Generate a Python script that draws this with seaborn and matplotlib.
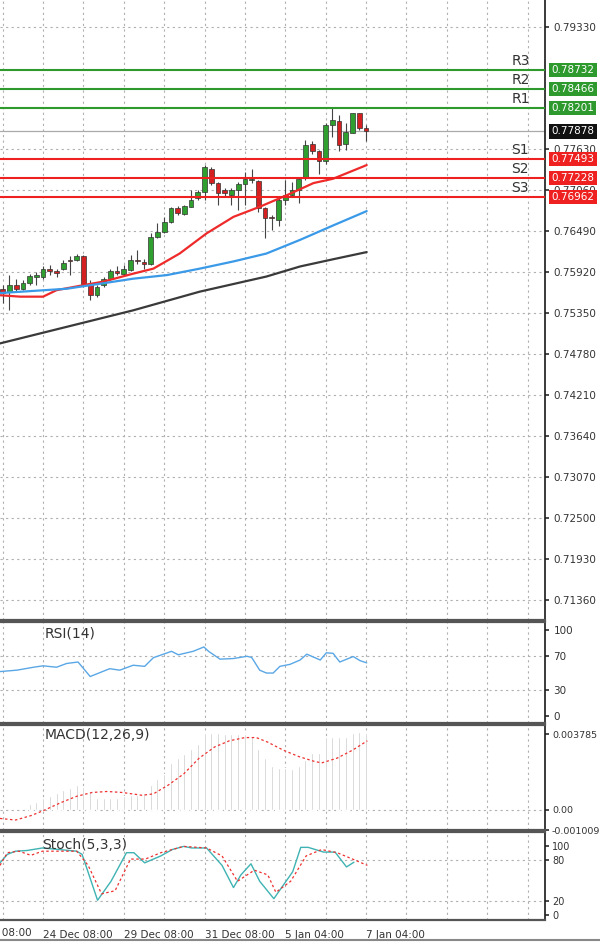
import numpy as np
import pandas as pd
import matplotlib
matplotlib.use("Agg")
import matplotlib.pyplot as plt
import seaborn as sns

sns.set_theme(style="white")
plt.rcParams["font.family"] = "DejaVu Sans"

# ---------------- data ----------------
opens = [.7569,.7565,.7574,.7569,.7577,.7586,.7586,.7596,.7593,.7597,.7609,.7609,.7614,.7574,.7560,.7574,.7583,.7594,.7590,.7595,
         .7609,.7606,.7604,.7641,.7648,.7662,.7682,.7673,.7683,.7695,.7704,.7736,.7716,.7706,.7699,.7706,.7715,.7720,.7719,.7681,
         .7669,.7665,.7692,.7699,.7706,.7725,.7771,.7761,.7746,.7797,.7803,.7771,.7786,.7814,.7793]
closes = [.7563,.7574,.7569,.7577,.7587,.7588,.7596,.7594,.7591,.7605,.7607,.7614,.7575,.7560,.7572,.7583,.7594,.7591,.7597,.7609,
          .7607,.7604,.7641,.7648,.7662,.7682,.7674,.7684,.7693,.7704,.7739,.7716,.7702,.7702,.7706,.7715,.7721,.7721,.7681,.7667,
          .7668,.7692,.7699,.7707,.7722,.7769,.7760,.7746,.7797,.7804,.7769,.7787,.7813,.7792,.77878]
highs = [.7574,.7588,.7583,.7581,.7590,.7592,.7600,.7602,.7597,.7609,.7614,.7618,.7616,.7581,.7574,.7586,.7597,.7600,.7602,.7616,
         .7623,.7611,.7646,.7660,.7669,.7683,.7684,.7685,.7706,.7706,.7741,.7739,.7718,.7709,.7709,.7718,.7732,.7736,.7720,.7683,
         .7671,.7697,.7720,.7718,.7722,.7776,.7774,.7762,.7799,.7820,.7811,.7799,.7814,.7814,.7797]
lows = [.7549,.7539,.7565,.7567,.7574,.7574,.7583,.7588,.7586,.7595,.7588,.7607,.7572,.7553,.7558,.7572,.7581,.7588,.7588,.7594,
        .7604,.7597,.7602,.7639,.7646,.7660,.7671,.7671,.7683,.7692,.7692,.7713,.7685,.7697,.7685,.7678,.7685,.7716,.7676,.7639,
        .7651,.7656,.7685,.7697,.7688,.7720,.7757,.7729,.7743,.7780,.7760,.7762,.7785,.7790,.7774]

ma_red_x = [-0.4, 2.6, 6.0, 8.0, 12, 15, 19.4, 22.4, 26.3, 30.3, 34.3, 38.2, 42.2, 46.2, 49.1, 54.1]
ma_red_y = [.7560,.7558,.7558,.7567,.7574,.7579,.7590,.7597,.7618,.7646,.7669,.7683,.7699,.7716,.7722,.7741]
ma_blue_x = [-0.4, 9.5, 14.5, 19.4, 24.4, 29.3, 34.3, 39.2, 44.2, 49.1, 54.1]
ma_blue_y = [.7563,.7569,.7576,.7583,.7588,.7597,.7607,.7618,.7637,.7657,.7677]
ma_black_x = [-0.4, 9.5, 19.4, 29.3, 39.2, 44.2, 49.1, 54.1]
ma_black_y = [.7493,.7516,.7539,.7565,.7586,.7600,.7610,.7620]

level_names = ["R3", "R2", "R1", "S1", "S2", "S3"]
level_values = [0.78732, 0.78466, 0.78201, 0.77493, 0.77228, 0.76962]
current_price = 0.77878
price_ticks = [0.79330,0.77630,0.77060,0.76490,0.75920,0.75350,0.74780,0.74210,0.73640,0.73070,0.72500,0.71930,0.71360]

rsi_x = [-0.4,2.1,4.6,6.0,8.0,9.5,11.2,13,15.9,17.4,19.4,21.1,22.4,25.1,26.1,28.3,29.9,30.6,32.3,34.3,36.3,37,38.2,39.2,40.2,41.2,42.7,44.2,45.2,47.2,48.1,49.1,50.1,52.1,53.1,54.1]
rsi_y = [51.7,53.3,56.7,58.3,56.7,61,62.7,46,55,53.3,59,57.7,67.7,75,71,75,80,75,66,66.7,69.3,68,53.3,50,50,57.7,60,65,71.7,65,73.3,72.7,62.7,69,64.3,61.7]

macd_hist = [0.00029,0.0004,0.0006,0.00068,0.00084,0.001,0.00108,0.00124,0.00116,0.00092,
             0.0006,0.0006,0.0006,0.0006,0.00068,0.00076,0.00076,0.00084,0.00124,0.00156,
             0.0018,0.00235,0.00259,0.0028,0.00307,0.00331,0.00386,0.00383,0.00383,0.00378,
             0.00378,0.00378,0.00378,0.0037,0.00307,0.00259,0.00219,0.00211,0.00211,0.00204,
             0.00219,0.00251,0.00283,0.00283,0.00363,0.00363,0.00363,0.00363,0.00386,0.0039,0.00386]
macd_start = 4
sig_x = [-0.4,1.9,4.2,6.1,8.7,11,13.3,15.5,17.8,20.7,22.4,24.6,26.9,29.2,31.5,33.7,36,37.7,39.4,41.7,44,46.3,47.4,49.7,52,54.2]
sig_y = [-0.00043,-0.00051,-0.00029,-0.00003,0.00037,0.00068,0.00087,0.00092,0.00087,0.00073,0.0008,0.00124,0.0018,0.00259,0.00315,0.00346,0.00362,0.00362,0.00339,0.00299,0.00267,0.00243,0.00235,0.00259,0.00299,0.00346]

st_main_x = [-0.4,0.7,1.9,3.6,5.9,11,11.8,14.1,16.1,18.4,19.5,21.1,23.5,25.2,26.9,28.1,30.3,32.6,34.3,35.4,36.9,38.2,40.3,43.1,44.3,45.4,47.7,49.4,51.1,52.2]
st_main_y = [76,88.4,93,94,97.7,93,88.4,21.4,49.1,90.8,90.8,76,86.1,95.4,100,97.7,97.7,72.3,39.9,58.4,74.6,49.1,23.7,63,98.6,98.6,91.7,91.7,70,76.9]
st_sig_x = [-0.4,0.7,2.4,4.2,5.9,11,12.7,14.7,16.7,19,21.2,23.5,26.9,30.3,32.6,34.9,37.4,39.4,40.6,42.8,45.1,47.4,49.7,52,54.2]
st_sig_y = [72.3,90.8,93,87,93,93,72.3,30.7,35.3,81.5,81.5,90.8,100,97.7,86.1,49.1,65.3,58.4,33,49.1,86.1,95.4,90.8,81.5,72.3]

tick_pos = [6, 18, 30, 42, 54]
tick_labels = ["24 Dec 08:00", "29 Dec 08:00", "31 Dec 08:00", "5 Jan 04:00", "7 Jan 04:00"]
first_label = "22 Dec 08:00"

# ---------------- layout ----------------
W, H = 600, 943
fig = plt.figure(figsize=(6, 9.43), dpi=100)
def axes_px(top, bottom):
    return fig.add_axes([0, 1 - bottom / H, 545 / W, (bottom - top) / H])

ax = axes_px(0, 620)
ax_rsi = axes_px(622, 723)
ax_macd = axes_px(725, 830)
ax_st = axes_px(832, 920)
XL = (-0.4, 80.6)
grid_kw = dict(color="#b0b0b0", linestyle=(0, (2, 3)), linewidth=0.8)

for a in [ax, ax_rsi, ax_macd, ax_st]:
    a.set_facecolor("white")
    a.yaxis.tick_right()
    a.tick_params(axis="y", labelsize=7.5, colors="#333333", length=3, pad=3)
    a.set_xticks([])
    for gx in range(0, 81, 6):
        a.axvline(gx, zorder=0, **grid_kw)
    a.spines["left"].set_visible(False)
    a.spines["right"].set_color("#222222")
    a.spines["top"].set_color("#555555"); a.spines["top"].set_linewidth(1.6)
    a.spines["bottom"].set_color("#555555"); a.spines["bottom"].set_linewidth(1.6)

# ---------- main price panel ----------
ax.set_ylim(0.71083, 0.79706)
ax.set_yticks(price_ticks)
ax.set_yticklabels([f"{v:.5f}" for v in price_ticks])
for v in price_ticks:
    ax.axhline(v, zorder=0, **grid_kw)
ax.spines["top"].set_visible(False)
idx = np.arange(len(opens))
o, c, h, l = map(np.array, (opens, closes, highs, lows))
up = c >= o
ax.vlines(idx, l, h, color="#444444", linewidth=0.8, zorder=3)
ax.bar(idx[up], (c - o)[up], bottom=o[up], width=0.7, color="#2fa02f", edgecolor="#333333", linewidth=0.5, zorder=4)
ax.bar(idx[~up], (o - c)[~up], bottom=c[~up], width=0.7, color="#d42020", edgecolor="#333333", linewidth=0.5, zorder=4)

sns.lineplot(x=ma_red_x, y=ma_red_y, ax=ax, color="#ee2a2a", linewidth=1.6, zorder=5)
sns.lineplot(x=ma_blue_x, y=ma_blue_y, ax=ax, color="#3a9ae8", linewidth=1.6, zorder=5)
sns.lineplot(x=ma_black_x, y=ma_black_y, ax=ax, color="#3a3a3a", linewidth=1.6, zorder=5)

ax.axhline(current_price, color="#aaaaaa", linewidth=0.9, zorder=2)
ax.text(1.012, current_price, f"{current_price:.5f}", transform=ax.get_yaxis_transform(), va="center", ha="left",
        fontsize=7.5, color="white", bbox=dict(boxstyle="square,pad=0.2", fc="#111111", ec="none"), zorder=10)
for name, v in zip(level_names, level_values):
    col = "#2e9a2e" if name.startswith("R") else "#ee2020"
    ax.axhline(v, color=col, linewidth=1.5, zorder=6)
    ax.text(1.012, v, f"{v:.5f}", transform=ax.get_yaxis_transform(), va="center", ha="left", fontsize=7.5,
            color="white", bbox=dict(boxstyle="square,pad=0.2", fc=col, ec="none"), zorder=10)
    ax.text(75.6, v + 0.0003, name, fontsize=10, color="#333333", ha="left", va="bottom", zorder=7)

# ---------- RSI ----------
ax_rsi.set_ylim(-7.5, 108.75)
ax_rsi.set_yticks([0, 30, 70, 100])
for v in [30, 70]:
    ax_rsi.axhline(v, zorder=0, **grid_kw)
sns.lineplot(x=rsi_x, y=rsi_y, ax=ax_rsi, color="#5aa7e6", linewidth=1.0)
ax_rsi.text(6.2, 103, "RSI(14)", fontsize=10, color="#333333", va="top")

# ---------- MACD ----------
ax_macd.set_ylim(-0.00095, 0.00425)
ax_macd.set_yticks([-0.001009, 0.0, 0.003785])
ax_macd.set_yticklabels(["-0.001009", "0.00", "0.003785"])
ax_macd.tick_params(axis="y", labelsize=6.8, pad=2)
ax_macd.axhline(0, zorder=0, **grid_kw)
hx = np.arange(macd_start, macd_start + len(macd_hist))
ax_macd.bar(hx, macd_hist, width=0.3, color="#c4c4c4", zorder=3)
sns.lineplot(x=sig_x, y=sig_y, ax=ax_macd, color="#ee3030", linewidth=0.9, linestyle=(0, (2, 2)), zorder=4)
ax_macd.text(6.2, 0.0041, "MACD(12,26,9)", fontsize=10, color="#333333", va="top")

# ---------- Stoch ----------
ax_st.set_ylim(-7.4, 121)
ax_st.set_yticks([0, 20, 80, 100])
ax_st.tick_params(axis="y", labelsize=7, pad=2)
for v in [20, 80]:
    ax_st.axhline(v, zorder=0, **grid_kw)
sns.lineplot(x=st_main_x, y=st_main_y, ax=ax_st, color="#3fb3b3", linewidth=1.0, zorder=4)
sns.lineplot(x=st_sig_x, y=st_sig_y, ax=ax_st, color="#ee3030", linewidth=0.9, linestyle=(0, (2, 2)), zorder=4)
ax_st.text(5.8, 112, "Stoch(5,3,3)", fontsize=10, color="#333333", va="top", zorder=6)

ax_st.set_xticks(tick_pos)
ax_st.set_xticklabels(tick_labels)
ax_st.tick_params(axis="x", labelbottom=True, length=4, labelsize=7.5, colors="#333333", pad=3)
for lab in ax_st.get_xticklabels():
    lab.set_ha("left")
ax_st.text(-6, -0.09, first_label, transform=ax_st.get_xaxis_transform(), ha="left", va="top",
           fontsize=7.5, color="#333333")

for a in [ax, ax_rsi, ax_macd, ax_st]:
    a.set_xlim(*XL)

fig.add_artist(plt.Line2D([0, 1], [1 - 940 / H, 1 - 940 / H], color="#888888", linewidth=1.5))
fig.savefig("out.png", dpi=100, facecolor="white")
